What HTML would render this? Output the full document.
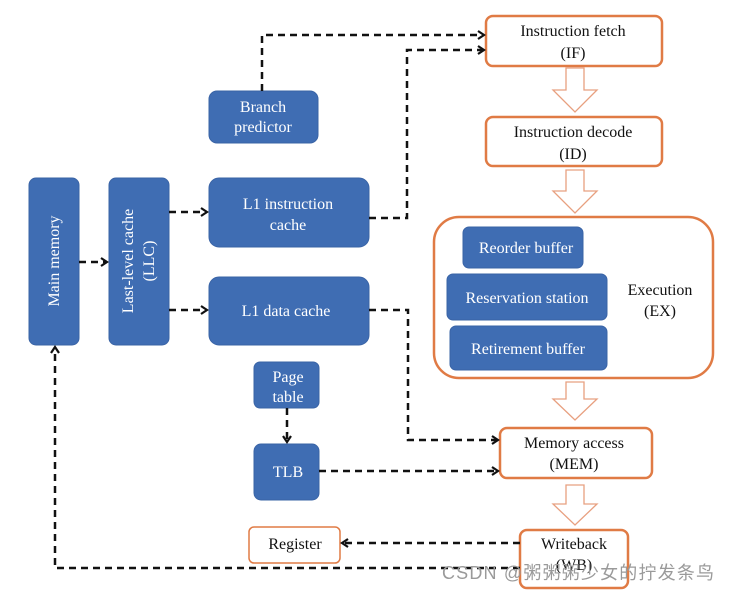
<!DOCTYPE html>
<html><head><meta charset="utf-8"><style>
body{margin:0;background:#fff;}
svg text{font-family:"Liberation Serif","Noto Serif CJK SC",serif;font-size:16px;}
</style></head><body>
<svg width="729" height="590" viewBox="0 0 729 590" xmlns="http://www.w3.org/2000/svg">
<defs>
<marker id="ah" markerWidth="10" markerHeight="10" refX="8" refY="5" orient="auto" markerUnits="userSpaceOnUse">
<path d="M2,1 L8,5 L2,9" fill="none" stroke="#111" stroke-width="2.2"/>
</marker>
</defs>
<g fill="#fff" stroke="#e07b45" stroke-width="2.5">
<rect x="486" y="16" width="176" height="50" rx="7"/>
<rect x="486" y="117" width="176" height="49" rx="7"/>
<rect x="434" y="217" width="279" height="161" rx="25"/>
<rect x="500" y="428" width="152" height="50" rx="7"/>
<rect x="520" y="530" width="108" height="58" rx="7"/>
<rect x="249" y="527" width="91" height="36" rx="5" stroke-width="1.5"/>
</g>
<g fill="#3f6db3" stroke="#3a64a6" stroke-width="1">
<rect x="29" y="178" width="50" height="167" rx="7"/>
<rect x="109" y="178" width="60" height="167" rx="7"/>
<rect x="209" y="91" width="109" height="52" rx="8"/>
<rect x="209" y="178" width="160" height="69" rx="10"/>
<rect x="209" y="277" width="160" height="68" rx="10"/>
<rect x="254" y="362" width="65" height="46" rx="6"/>
<rect x="254" y="444" width="65" height="56" rx="7"/>
<rect x="463" y="227" width="120" height="41" rx="6"/>
<rect x="447" y="274" width="160" height="46" rx="6"/>
<rect x="450" y="326" width="157" height="44" rx="6"/>
</g>
<g fill="#fff" stroke="#e8a080" stroke-width="1.3">
<path d="M566,68 h18 v22 h13 l-22,22 l-22,-22 h13 z"/>
<path d="M566,170 h18 v21 h13 l-22,22 l-22,-22 h13 z"/>
<path d="M566,382 h18 v17 h13 l-22,21 l-22,-21 h13 z"/>
<path d="M566,485 h18 v19 h13 l-22,21 l-22,-21 h13 z"/>
</g>
<g fill="none" stroke="#111" stroke-width="2.5" stroke-dasharray="7,5">
<path d="M262,91 V35 H484" marker-end="url(#ah)"/>
<path d="M369,218 H407 V50 H484" marker-end="url(#ah)"/>
<path d="M79,262 H107" marker-end="url(#ah)"/>
<path d="M169,212 H207" marker-end="url(#ah)"/>
<path d="M169,310 H207" marker-end="url(#ah)"/>
<path d="M369,310 H408 V440 H498" marker-end="url(#ah)"/>
<path d="M287,408 V442" marker-end="url(#ah)"/>
<path d="M319,471 H498" marker-end="url(#ah)"/>
<path d="M520,543 H342" marker-end="url(#ah)"/>
<path d="M520,568 H55 V347" marker-end="url(#ah)"/>
</g>
<g fill="#fff" text-anchor="middle">
<text transform="translate(59,261) rotate(-90)">Main memory</text>
<text transform="translate(133,261) rotate(-90)">Last-level cache</text>
<text transform="translate(154,261) rotate(-90)">(LLC)</text>
<text x="263" y="112">Branch</text>
<text x="263" y="132">predictor</text>
<text x="288" y="209">L1 instruction</text>
<text x="288" y="230">cache</text>
<text x="286" y="316">L1 data cache</text>
<text x="288" y="382">Page</text>
<text x="288" y="402">table</text>
<text x="288" y="477">TLB</text>
<text x="526" y="253">Reorder buffer</text>
<text x="527" y="303">Reservation station</text>
<text x="528" y="354">Retirement buffer</text>
</g>
<g fill="#111" text-anchor="middle">
<text x="573" y="36">Instruction fetch</text>
<text x="573" y="58">(IF)</text>
<text x="573" y="137">Instruction decode</text>
<text x="573" y="159">(ID)</text>
<text x="660" y="295">Execution</text>
<text x="660" y="316">(EX)</text>
<text x="574" y="448">Memory access</text>
<text x="574" y="469">(MEM)</text>
<text x="574" y="549">Writeback</text>
<text x="574" y="570">(WB)</text>
<text x="295" y="549">Register</text>
</g>
<text x="442" y="579" fill="#9a9a9a" textLength="272" style="font-family:'Liberation Sans','Noto Sans CJK SC',sans-serif;font-size:18px;">CSDN @粥粥粥少女的拧发条鸟</text>
</svg>
</body></html>
